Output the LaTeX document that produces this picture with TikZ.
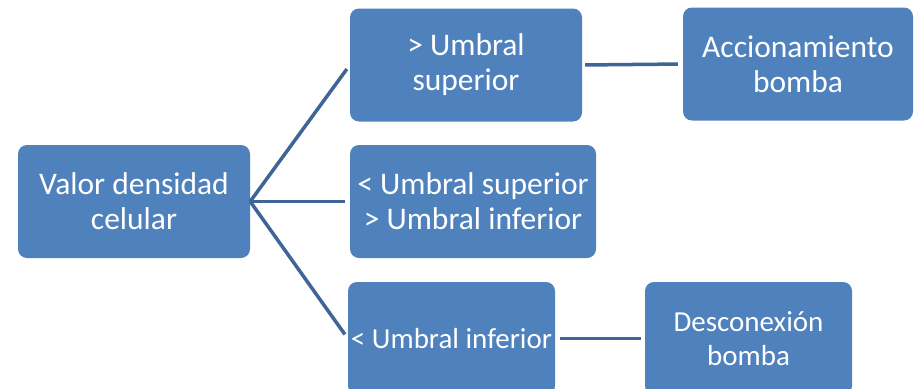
\documentclass[tikz,border=0pt]{standalone}
\usepackage{fontspec}
\setmainfont{Carlito}
\usetikzlibrary{positioning}
\definecolor{sblue}{RGB}{79,129,189}
\definecolor{sline}{RGB}{62,101,150}

\begin{document}
\begin{tikzpicture}[
    x=1pt, y=-1pt,
    box/.style={fill=sblue, rounded corners=9pt, minimum height=113pt, inner sep=0pt, text=white, align=center, font=\fontsize{31.5}{35}\selectfont},
    smallbox/.style={box, font=\fontsize{29}{34}\selectfont},
    link/.style={draw=sline, line width=3.5pt},
]
    \path[use as bounding box, clip] (0,0) rectangle (915,388);

    % Root
    \node[box, minimum width=232pt] (valor) at (134,201.5) {Valor densidad\\celular};

    % Thresholds
    \node[box, minimum width=232pt] (sup) at (466,65) {> Umbral\\superior};
    \node[box, minimum width=246pt] (mid) at (473,201.5) {< Umbral superior\\> Umbral inferior};
    \node[smallbox, minimum width=207pt] (inf) at (451.5,338.5) {< Umbral inferior};

    % Actions
    \node[box, minimum width=230pt] (accion) at (798,64) {Accionamiento\\bomba};
    \node[smallbox, minimum width=207pt] (descon) at (748.5,338.5) {Desconexión\\bomba};

    % Links
    \draw[link, shorten >=5pt] (valor.east) -- (sup.west);
    \draw[link, shorten >=5pt] (valor.east) -- (mid.west);
    \draw[link, shorten >=5pt] (valor.east) -- (inf.west);
    \draw[link, shorten <=3pt, shorten >=5pt] (sup.east) -- (accion.west);
    \draw[link, shorten <=5pt, shorten >=4pt] (inf.east) -- (descon.west);
\end{tikzpicture}
\end{document}
